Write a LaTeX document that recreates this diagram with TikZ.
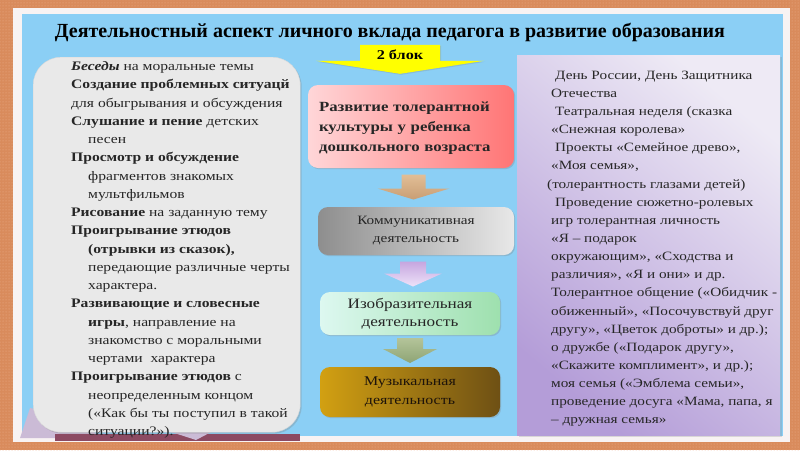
\documentclass[tikz,border=0pt]{standalone}
\usepackage{fontspec}
\setmainfont{Liberation Serif}
\newfontfamily\bodyfont{Liberation Serif}[FakeStretch=1.2]
\usetikzlibrary{patterns,shadows,calc}
\definecolor{borderor}{HTML}{D98B5C}
\definecolor{borderdot}{HTML}{EDB08E}
\definecolor{framew}{HTML}{F8F3F3}
\definecolor{sky}{HTML}{8BCFF5}
\definecolor{panelgray}{HTML}{E9E9E9}
\definecolor{txt}{HTML}{262626}
\definecolor{lavtop}{HTML}{EEEAF5}
\definecolor{lavbot}{HTML}{B49DD8}
\definecolor{pinkl}{HTML}{FFD6D8}
\definecolor{pinkr}{HTML}{FF7575}
\definecolor{grayl}{HTML}{8E8E8E}
\definecolor{grayr}{HTML}{E8E8E8}
\definecolor{greenl}{HTML}{DDF8F0}
\definecolor{greenr}{HTML}{9EE0AE}
\definecolor{brownl}{HTML}{D2A012}
\definecolor{brownr}{HTML}{6E5014}
\definecolor{yel}{HTML}{FFFF00}
\definecolor{tanA}{HTML}{E2BE96}
\definecolor{tanB}{HTML}{C89E74}
\definecolor{purA}{HTML}{C6A6E0}
\definecolor{purB}{HTML}{EEE2F8}
\definecolor{olvA}{HTML}{B4C49A}
\definecolor{olvB}{HTML}{8EA474}
\definecolor{bookpg}{HTML}{CBBBD6}
\definecolor{bookdk}{HTML}{8C4A62}
\newcommand\myind{\hspace*{17pt}}
\begin{document}
\begin{tikzpicture}[x=1pt,y=-1pt,
  every node/.style={text=txt},
  leftbox/.style={draw=black!15, fill=panelgray, rounded corners=28pt,
    drop shadow={opacity=0.3, shadow xshift=1.5pt, shadow yshift=-1.5pt}},
  rightbox/.style={top color=lavtop, bottom color=lavbot, shading angle=-40,
    drop shadow={opacity=0.25, shadow xshift=1.5pt, shadow yshift=-1.5pt}},
  flowbox/.style={rounded corners=10pt, align=center, inner sep=4pt,
    drop shadow={opacity=0.3, shadow xshift=1.2pt, shadow yshift=-1.2pt}},
  bodytext/.style={align=left, inner sep=0pt, anchor=north west}
]
\useasboundingbox (0,0) rectangle (800,450);
% border and frame
\fill[borderor] (0,0) rectangle (800,450);
\fill[pattern=dots, pattern color=borderdot] (0,0) rectangle (800,450);
\fill[framew] (13,8) rectangle (790,442);
\fill[sky] (22,14) rectangle (783,436);

% title
\node[font=\bfseries\fontsize{20}{24}\selectfont, text=black, anchor=base] (title) at (390,37)
  {Деятельностный аспект личного вклада педагога в развитие образования};

% book decoration
\fill[bookpg] (20,438) -- (30,408) -- (80,418) -- (100,438) -- cycle;
\fill[bookdk] (55,434) -- (300,434) -- (300,441) -- (55,441) -- cycle;
\fill[bookpg] (165,430) -- (215,430) -- (196,440) -- cycle;

% left panel
\node[leftbox, minimum width=267, minimum height=375, anchor=north west] (lp) at (33,57) {};
\node[bodytext, font=\bodyfont\fontsize{13}{18.25}\selectfont] (ltext) at (71,61.5) {%
\textbf{\textit{Беседы}} на моральные темы\\
\textbf{Создание проблемных ситуацй}\\
для обыгрывания и обсуждения\\
\textbf{Слушание и пение} детских\\
\myind песен\\
\textbf{Просмотр и обсуждение}\\
\myind фрагментов знакомых\\
\myind мультфильмов\\
\textbf{Рисование} на заданную тему\\
\textbf{Проигрывание этюдов}\\
\myind\textbf{(отрывки из сказок),}\\
\myind передающие различные черты\\
\myind характера.\\
\textbf{Развивающие и словесные}\\
\myind\textbf{игры}, направление на\\
\myind знакомство с моральными\\
\myind чертами\ \ характера\\
\textbf{Проигрывание этюдов} с\\
\myind неопределенным концом\\
\myind («Как бы ты поступил в такой\\
\myind ситуации?»).};

% right panel
\node[rightbox, minimum width=263, minimum height=380, anchor=north west] (rp) at (517,55) {};
\node[bodytext, font=\bodyfont\fontsize{12.7}{18.15}\selectfont] (rtext) at (551,70.5) {%
\hspace*{4pt}День России, День Защитника\\
Отечества\\
\hspace*{4pt}Театральная неделя (сказка\\
«Снежная королева»\\
\hspace*{4pt}Проекты «Семейное древо»,\\
«Моя семья»,\\
\hspace*{-4pt}(толерантность глазами детей)\\
\hspace*{4pt}Проведение сюжетно-ролевых\\
игр толерантная личность\\
«Я – подарок\\
окружающим», «Сходства и\\
различия», «Я и они» и др.\\
Толерантное общение («Обидчик -\\
обиженный», «Посочувствуй друг\\
другу», «Цветок доброты» и др.);\\
о дружбе («Подарок другу»,\\
«Скажите комплимент», и др.);\\
моя семья («Эмблема семьи»,\\
проведение досуга «Мама, папа, я\\
– дружная семья»};

% centre column
\node[flowbox, left color=pinkl, right color=pinkr, minimum height=83,
  text width=184, inner xsep=11pt,
  font=\bodyfont\bfseries\fontsize{14}{20}\selectfont, align=left] (pink) at (411,126.5)
  {\rule{0pt}{13pt}Развитие толерантной\\культуры у ребенка\\дошкольного возраста};
\node[flowbox, left color=grayl, right color=grayr, minimum width=196, minimum height=48,
  font=\bodyfont\fontsize{12.7}{18}\selectfont] (comm) at (416,231)
  {Коммуникативная\\деятельность};
\node[flowbox, left color=greenl, right color=greenr, minimum width=180, minimum height=43,
  font=\bodyfont\fontsize{14.3}{18}\selectfont] (draw) at (410,313.5)
  {Изобразительная\\деятельность};
\node[flowbox, left color=brownl, right color=brownr, minimum width=180, minimum height=50,
  font=\bodyfont\fontsize{13.3}{19}\selectfont, text=black!85!brown] (music) at (410,392)
  {Музыкальная\\деятельность};

% yellow block arrow into pink box
\coordinate (ytip) at ($(pink.north)+(-11,-11)$);
\begin{scope}[shift={(ytip)}]
  \fill[yel, drop shadow={opacity=0.25, shadow xshift=1pt, shadow yshift=-1pt}]
    (-40,-29) -- (40,-29) -- (40,-13) -- (84,-13) -- (0,0) -- (-84,-13) -- (-40,-13) -- cycle;
\end{scope}
\node[font=\bodyfont\bfseries\fontsize{13.5}{16}\selectfont, text=black] (blk) at ($(ytip)+(0,-19)$) {2 блок};

% block arrows between boxes
\path (pink.south) -- (comm.north) coordinate[pos=0.5] (m1);
\path (comm.south) -- (draw.north) coordinate[pos=0.5] (m2);
\path (draw.south) -- (music.north) coordinate[pos=0.5] (m3);
\begin{scope}[shift={(m1)}]
  \shade[top color=tanA, bottom color=tanB]
    (-12,-13) -- (12,-13) -- (12,1) -- (36,1) -- (0,12) -- (-36,1) -- (-12,1) -- cycle;
\end{scope}
\begin{scope}[shift={(m2)}]
  \shade[top color=purA, bottom color=purB]
    (-13,-12) -- (13,-12) -- (13,0) -- (29,0) -- (0,13) -- (-29,0) -- (-13,0) -- cycle;
\end{scope}
\begin{scope}[shift={(m3)}]
  \shade[top color=olvA, bottom color=olvB]
    (-13,-13) -- (13,-13) -- (13,-2) -- (27,-2) -- (0,12) -- (-27,-2) -- (-13,-2) -- cycle;
\end{scope}
\end{tikzpicture}
\end{document}
